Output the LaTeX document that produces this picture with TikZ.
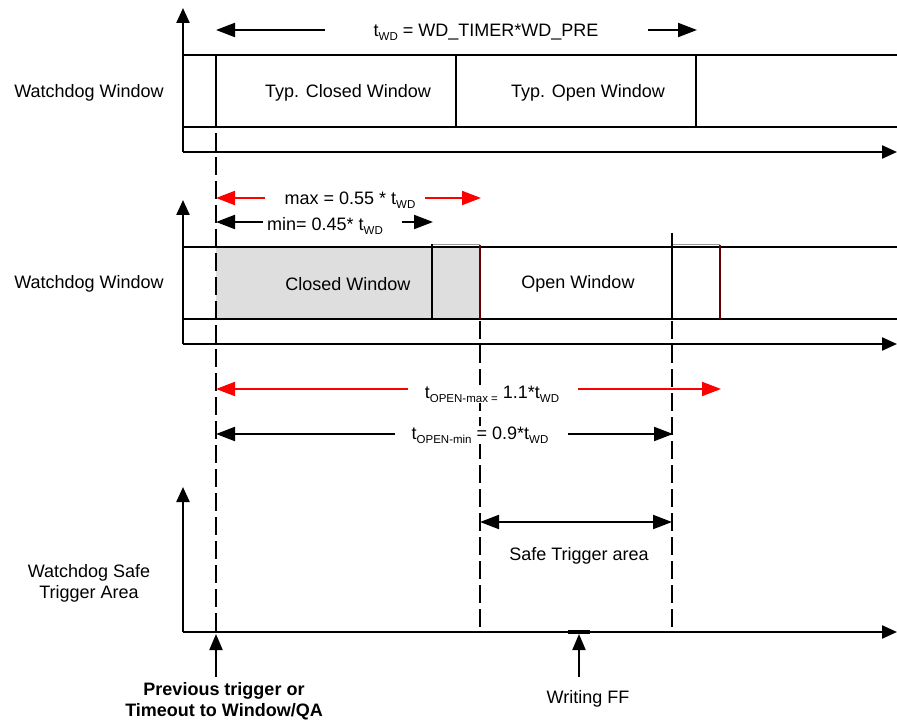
\documentclass[tikz,border=0pt]{standalone}
\usepackage{fontspec}
\setmainfont{Liberation Sans}
\usetikzlibrary{arrows.meta}
\newcommand\lowtxt[1]{\raisebox{-0.4ex}{\fontsize{11.5}{12}\selectfont #1}}
\begin{document}
\begin{tikzpicture}[x=1pt,y=-1pt,
  axis/.style={line width=2.3pt,-{Triangle[length=15pt,width=13pt]}},
  wline/.style={line width=2pt},
  dashv/.style={line width=1.8pt,dash pattern=on 18pt off 6pt},
  arr/.style={line width=2pt,-{Triangle[length=19pt,width=14pt]}},
  uparr/.style={line width=2pt,-{Triangle[length=16pt,width=13pt]}},
  redarr/.style={arr,red},
  lbl/.style={font=\fontsize{18}{21}\selectfont,inner sep=1pt,yshift=-2pt},
  blbl/.style={font=\fontsize{18}{21}\selectfont\bfseries,inner sep=1pt,align=center}
]
\useasboundingbox (0,0) rectangle (897,722);
\fill[white] (0,0) rectangle (897,722);

% ---------- panel 1 ----------
\coordinate (o1) at (183,152);
\coordinate (y1) at (183,8);
\coordinate (x1) at (897,152);
\draw[wline] (183,55) -- (897,55);
\draw[wline] (183,127) -- (897,127);
\draw[wline] (216,55) -- (216,127);
\draw[wline] (456,55) -- (456,127);
\draw[wline] (696,55) -- (696,127);
\draw[axis] (o1) -- (y1);
\draw[axis] (o1) -- (x1);
\node[lbl] (ww1) at (89,91) {Watchdog Window};
\node[lbl] (tcw) at (348,91) {Typ. Closed Window};
\node[lbl] (tow) at (588,91) {Typ. Open Window};
\node[lbl] (twd) at (486,30) {t\lowtxt{WD} = WD\_TIMER*WD\_PRE};
\coordinate (twdL) at (325,30);
\coordinate (twdLt) at (216,30);
\coordinate (twdR) at (648,30);
\coordinate (twdRt) at (697,30);
\draw[arr] (twdL) -- (twdLt);
\draw[arr] (twdR) -- (twdRt);

% ---------- panel 2 ----------
\coordinate (o2) at (183,344);
\coordinate (y2) at (183,200);
\coordinate (x2) at (897,344);
\fill[black!13] (216,247) rectangle (480,319);
\draw[line width=1pt,black!40] (432,245) -- (480,245);
\draw[line width=1pt,black!40] (672,245) -- (720,245);
\draw[wline] (183,247) -- (897,247);
\draw[wline] (183,319) -- (897,319);
\draw[wline] (432,244) -- (432,319);
\draw[line width=1.2pt,black!60!red] (480,245) -- (480,319);
\draw[wline] (672,233) -- (672,319);
\draw[line width=1.2pt,black!60!red] (720,245) -- (720,319);
\draw[axis] (o2) -- (y2);
\draw[axis] (o2) -- (x2);
\node[lbl] (ww2) at (89,282) {Watchdog Window};
\node[lbl] (cw) at (348,282) {Closed Window};
\node[lbl] (ow) at (578,282) {Open Window};

\node[lbl] (mx) at (350,198) {max = 0.55 * t\lowtxt{WD}};
\draw[redarr] (265,198) coordinate (mxL) -- (216,198) coordinate (mxLt);
\draw[redarr] (425,198) coordinate (mxR) -- (481,198) coordinate (mxRt);
\node[lbl] (mn) at (325,224) {min= 0.45* t\lowtxt{WD}};
\draw[arr] (263,222) coordinate (mnL) -- (216,222) coordinate (mnLt);
\draw[arr] (402,222) coordinate (mnR) -- (433,222) coordinate (mnRt);

% ---------- dashed guides ----------
\draw[dashv] (216,133) -- (216,632);
\draw[dashv] (480,321) -- (480,632);
\draw[dashv] (672,321) -- (672,632);

% ---------- open-window arrows ----------
\node[lbl,fill=white] (omax) at (492,392) {t\lowtxt{OPEN-max =} 1.1*t\lowtxt{WD}};
\draw[redarr] (408,389) coordinate (omL) -- (216,389) coordinate (omLt);
\draw[redarr] (578,389) coordinate (omR) -- (721,389) coordinate (omRt);
\node[lbl,fill=white] (omin) at (480,433) {t\lowtxt{OPEN-min} = 0.9*t\lowtxt{WD}};
\draw[arr] (395,434) coordinate (onL) -- (216,434) coordinate (onLt);
\draw[arr] (568,434) coordinate (onR) -- (673,434) coordinate (onRt);

% ---------- panel 3 ----------
\coordinate (o3) at (183,632);
\coordinate (y3) at (183,487);
\coordinate (x3) at (897,632);
\draw[axis] (o3) -- (y3);
\draw[axis] (o3) -- (x3);
\draw[line width=3.5pt] (568,632) -- (590,632);
\node[lbl,align=center] (wsta) at (89,581) {Watchdog Safe\\Trigger Area};
\draw[arr,{Triangle[length=19pt,width=14pt]}-{Triangle[length=19pt,width=14pt]}] (480,522) coordinate (sa1) -- (672,522) coordinate (sa2);
\node[lbl] (sta) at (579,554) {Safe Trigger area};
\coordinate (pt0) at (216,677);
\coordinate (pt1) at (216,634);
\draw[uparr] (pt0) -- (pt1);
\coordinate (wf0) at (579,677);
\coordinate (wf1) at (579,634);
\draw[uparr] (wf0) -- (wf1);
\node[lbl] (wff) at (588,697) {Writing FF};
\node[blbl] (prev) at (224,701) {Previous trigger or\\Timeout to Window/QA};
\end{tikzpicture}
\end{document}
